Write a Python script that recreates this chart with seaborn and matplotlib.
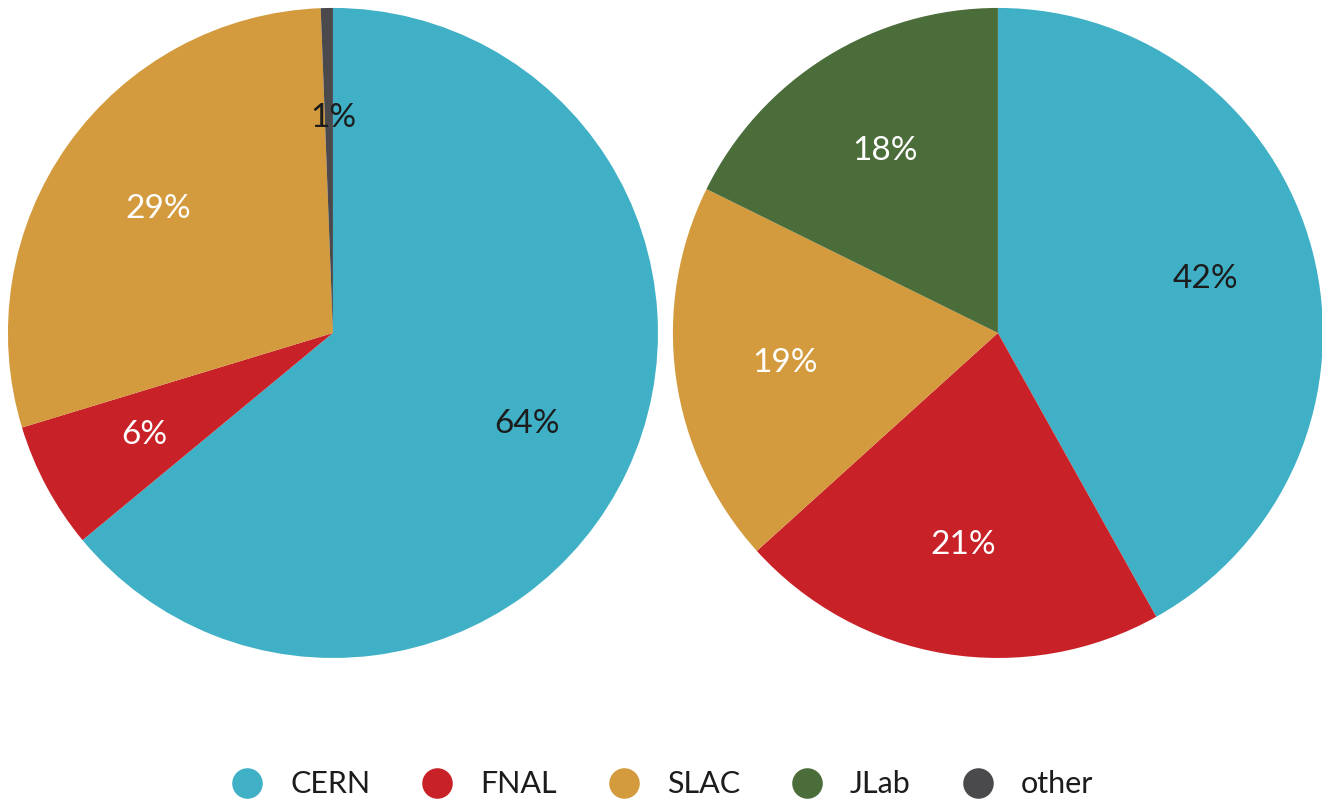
import matplotlib.pyplot as plt
import seaborn as sns
from matplotlib.lines import Line2D

# data
labs = ["CERN", "FNAL", "SLAC", "JLab", "other"]
colors = ["#3fb0c5", "#c92128", "#d39b3e", "#4b6d3a", "#4a4a4c"]

left_labels = ["CERN", "FNAL", "SLAC", "other"]
left_vals = [64.0, 6.3, 29.1, 0.6]
left_txt = ["#1c1c1c", "white", "white", "#1c1c1c"]

right_labels = ["CERN", "FNAL", "SLAC", "JLab"]
right_vals = [41.9, 21.4, 19.0, 17.7]
right_txt = ["#1c1c1c", "white", "white", "white"]

sns.set_theme(style="white")
plt.rcParams["font.family"] = ["Lato", "DejaVu Sans"]
cmap = dict(zip(labs, colors))


def draw_pie(ax, names, vals, txtcols):
    wedges, _, autotexts = ax.pie(
        vals,
        colors=[cmap[n] for n in names],
        startangle=90,
        counterclock=False,
        autopct="%.0f%%",
        pctdistance=0.66,
        radius=1,
        wedgeprops={"linewidth": 0},
    )
    for t, c in zip(autotexts, txtcols):
        t.set_color(c)
        t.set_fontsize(24)
    ax.set_xlim(-1, 1)
    ax.set_ylim(-1, 1)
    ax.set_aspect("equal")
    ax.axis("off")
    return autotexts


fig = plt.figure(figsize=(13.22, 8.02), dpi=100)
ax1 = fig.add_axes([0.006, 0.1796, 0.4917, 0.8105])
ax2 = fig.add_axes([0.509, 0.1796, 0.4917, 0.8105])

lt = draw_pie(ax1, left_labels, left_vals, left_txt)
# the tiny "other" label sits inside the pie near the top
lt[3].set_position((0.0, 0.66))
draw_pie(ax2, right_labels, right_vals, right_txt)

handles = [
    Line2D([], [], marker="o", linestyle="", markersize=22,
           markerfacecolor=c, markeredgewidth=0, label=l)
    for l, c in zip(labs, colors)
]
fig.legend(
    handles=handles,
    loc="center",
    bbox_to_anchor=(0.5, 0.022),
    ncol=5,
    frameon=False,
    fontsize=22,
    handlelength=1.2,
    handletextpad=0.8,
    columnspacing=1.6,
    labelcolor="#1c1c1c",
)

fig.savefig("out.png", dpi=100, facecolor="white")
